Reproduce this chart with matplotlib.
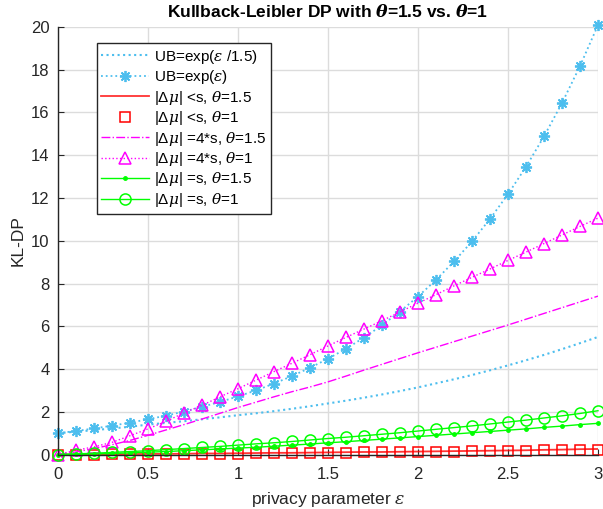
import matplotlib
matplotlib.use("Agg")
import matplotlib.pyplot as plt

plt.rcParams['font.family'] = ['Liberation Sans', 'DejaVu Sans']
plt.rcParams['mathtext.fontset'] = 'custom'
plt.rcParams['mathtext.rm'] = 'Liberation Sans'
plt.rcParams['mathtext.it'] = 'DejaVu Serif:italic'
plt.rcParams['mathtext.bf'] = 'DejaVu Serif:italic:bold'

eps = [0.0, 0.1, 0.2, 0.3, 0.4, 0.5, 0.6, 0.7, 0.8, 0.9, 1.0,
       1.1, 1.2, 1.3, 1.4, 1.5, 1.6, 1.7, 1.8, 1.9, 2.0,
       2.1, 2.2, 2.3, 2.4, 2.5, 2.6, 2.7, 2.8, 2.9, 3.0]

ub_15 = [1.00, 1.07, 1.14, 1.22, 1.30, 1.40, 1.48, 1.56, 1.65, 1.74, 1.84,
         1.93, 2.03, 2.14, 2.26, 2.39, 2.52, 2.66, 2.81, 2.97, 3.14,
         3.33, 3.52, 3.72, 3.94, 4.17, 4.41, 4.66, 4.93, 5.21, 5.50]

ub_1 = [1.00, 1.10, 1.22, 1.35, 1.49, 1.65, 1.82, 2.01, 2.23, 2.46, 2.72,
        3.00, 3.32, 3.67, 4.06, 4.48, 4.95, 5.47, 6.05, 6.69, 7.39,
        8.17, 9.03, 9.97, 11.02, 12.18, 13.46, 14.88, 16.44, 18.17, 20.09]

lt_s_15 = [0.00, 0.00, 0.01, 0.01, 0.02, 0.03, 0.03, 0.04, 0.05, 0.05, 0.06,
           0.07, 0.08, 0.08, 0.09, 0.10, 0.11, 0.12, 0.12, 0.13, 0.14,
           0.15, 0.16, 0.17, 0.18, 0.19, 0.20, 0.22, 0.23, 0.25, 0.26]

lt_s_1 = [0.00, 0.00, 0.00, 0.01, 0.01, 0.02, 0.02, 0.03, 0.03, 0.04, 0.04,
          0.05, 0.06, 0.06, 0.07, 0.08, 0.09, 0.10, 0.10, 0.11, 0.12,
          0.13, 0.14, 0.15, 0.16, 0.17, 0.18, 0.19, 0.20, 0.22, 0.23]

s4_15 = [0.00, 0.12, 0.28, 0.46, 0.66, 0.90, 1.15, 1.40, 1.66, 1.93, 2.20,
         2.45, 2.70, 2.94, 3.16, 3.40, 3.67, 3.95, 4.22, 4.49, 4.76,
         5.02, 5.28, 5.54, 5.80, 6.06, 6.33, 6.60, 6.87, 7.14, 7.41]

s4_1 = [0.00, 0.20, 0.36, 0.57, 0.88, 1.20, 1.55, 1.95, 2.30, 2.70, 3.08,
        3.48, 3.88, 4.27, 4.67, 5.08, 5.48, 5.87, 6.26, 6.67, 7.08,
        7.48, 7.89, 8.29, 8.68, 9.08, 9.47, 9.87, 10.27, 10.67, 11.06]

s_15 = [0.00, 0.01, 0.03, 0.05, 0.08, 0.11, 0.14, 0.18, 0.22, 0.26, 0.30,
        0.34, 0.39, 0.44, 0.49, 0.55, 0.60, 0.66, 0.72, 0.78, 0.84,
        0.90, 0.96, 1.02, 1.08, 1.14, 1.20, 1.27, 1.33, 1.40, 1.46]

s_1 = [0.00, 0.03, 0.06, 0.10, 0.14, 0.18, 0.23, 0.28, 0.33, 0.38, 0.44,
       0.50, 0.55, 0.61, 0.68, 0.75, 0.81, 0.88, 0.95, 1.02, 1.10,
       1.18, 1.26, 1.34, 1.43, 1.52, 1.61, 1.71, 1.81, 1.92, 2.05]

labels = [r'UB=exp($\varepsilon$ /1.5)', r'UB=exp($\varepsilon$)',
          r'$|\Delta\mu|$ <s, $\theta$=1.5', r'$|\Delta\mu|$ <s, $\theta$=1',
          r'$|\Delta\mu|$ =4*s, $\theta$=1.5', r'$|\Delta\mu|$ =4*s, $\theta$=1',
          r'$|\Delta\mu|$ =s, $\theta$=1.5', r'$|\Delta\mu|$ =s, $\theta$=1']

x_ticks = [0, 0.5, 1, 1.5, 2, 2.5, 3]
x_ticklabels = ['0', '0.5', '1', '1.5', '2', '2.5', '3']
y_ticks = [0, 2, 4, 6, 8, 10, 12, 14, 16, 18, 20]

BLUE = '#4DBEEE'
RED = '#FF0000'
MAG = '#FF00FF'
GREEN = '#00FF00'

fig = plt.figure(figsize=(6.03, 5.09), dpi=100)
ax = fig.add_axes([0.0962, 0.107, 0.8955, 0.840])

ax.plot(eps, ub_15, ':', color=BLUE, lw=1.5, label=labels[0])
ax.plot(eps, ub_1, ':', color=BLUE, lw=1.3, marker=(8, 2, 0), ms=8, mew=1.3,
        label=labels[1], clip_on=False)
ax.plot(eps, lt_s_15, '-', color=RED, lw=1.3, alpha=0.8, label=labels[2])
ax.plot(eps, lt_s_1, 's', color=RED, ms=7, mfc='none', mew=1.1,
        label=labels[3], clip_on=False)
ax.plot(eps, s4_15, '-.', color=MAG, lw=1.0, label=labels[4])
ax.plot(eps, s4_1, ':', color=MAG, lw=1.0, marker='^', ms=9, mfc='none', mew=1.1,
        label=labels[5], clip_on=False)
ax.plot(eps, s_15, '-', color=GREEN, lw=1.0, marker='.', ms=5,
        label=labels[6], clip_on=False)
ax.plot(eps, s_1, '-', color=GREEN, lw=1.0, marker='o', ms=8, mfc='none', mew=1.1,
        label=labels[7], clip_on=False)

ax.set_xlim(0, 3)
ax.set_ylim(0, 20)
ax.set_xticks(x_ticks)
ax.set_xticklabels(x_ticklabels)
ax.set_yticks(y_ticks)
ax.grid(True, color='#dcdcdc', lw=1.0)
ax.set_axisbelow(True)
for s in ['top', 'right']:
    ax.spines[s].set_visible(False)
for s in ['left', 'bottom']:
    ax.spines[s].set_color('#262626')
    ax.spines[s].set_linewidth(1.0)
ax.tick_params(direction='in', length=4, width=0.8, colors='#262626',
               labelsize=12)
ax.tick_params(axis='x', pad=9)
ax.tick_params(axis='y', pad=6)

ax.set_title(r'Kullback-Leibler DP with $\mathbf{\theta}$=1.5 vs. $\mathbf{\theta}$=1',
             fontsize=12.5, fontweight='bold', pad=7)
ax.set_xlabel(r'privacy parameter $\varepsilon$', fontsize=12.5, color='#262626', labelpad=6)
ax.set_ylabel('KL-DP', fontsize=12.5, color='#262626', labelpad=4)

leg = ax.legend(loc='upper left', bbox_to_anchor=(0.0717, 0.962), borderaxespad=0,
                fancybox=False, edgecolor='#262626', framealpha=1, fontsize=11,
                numpoints=1, handlelength=3.1, handletextpad=0.35, labelspacing=0.16,
                borderpad=0.3)
leg.get_frame().set_linewidth(1.0)

fig.savefig('out.png', dpi=100)
